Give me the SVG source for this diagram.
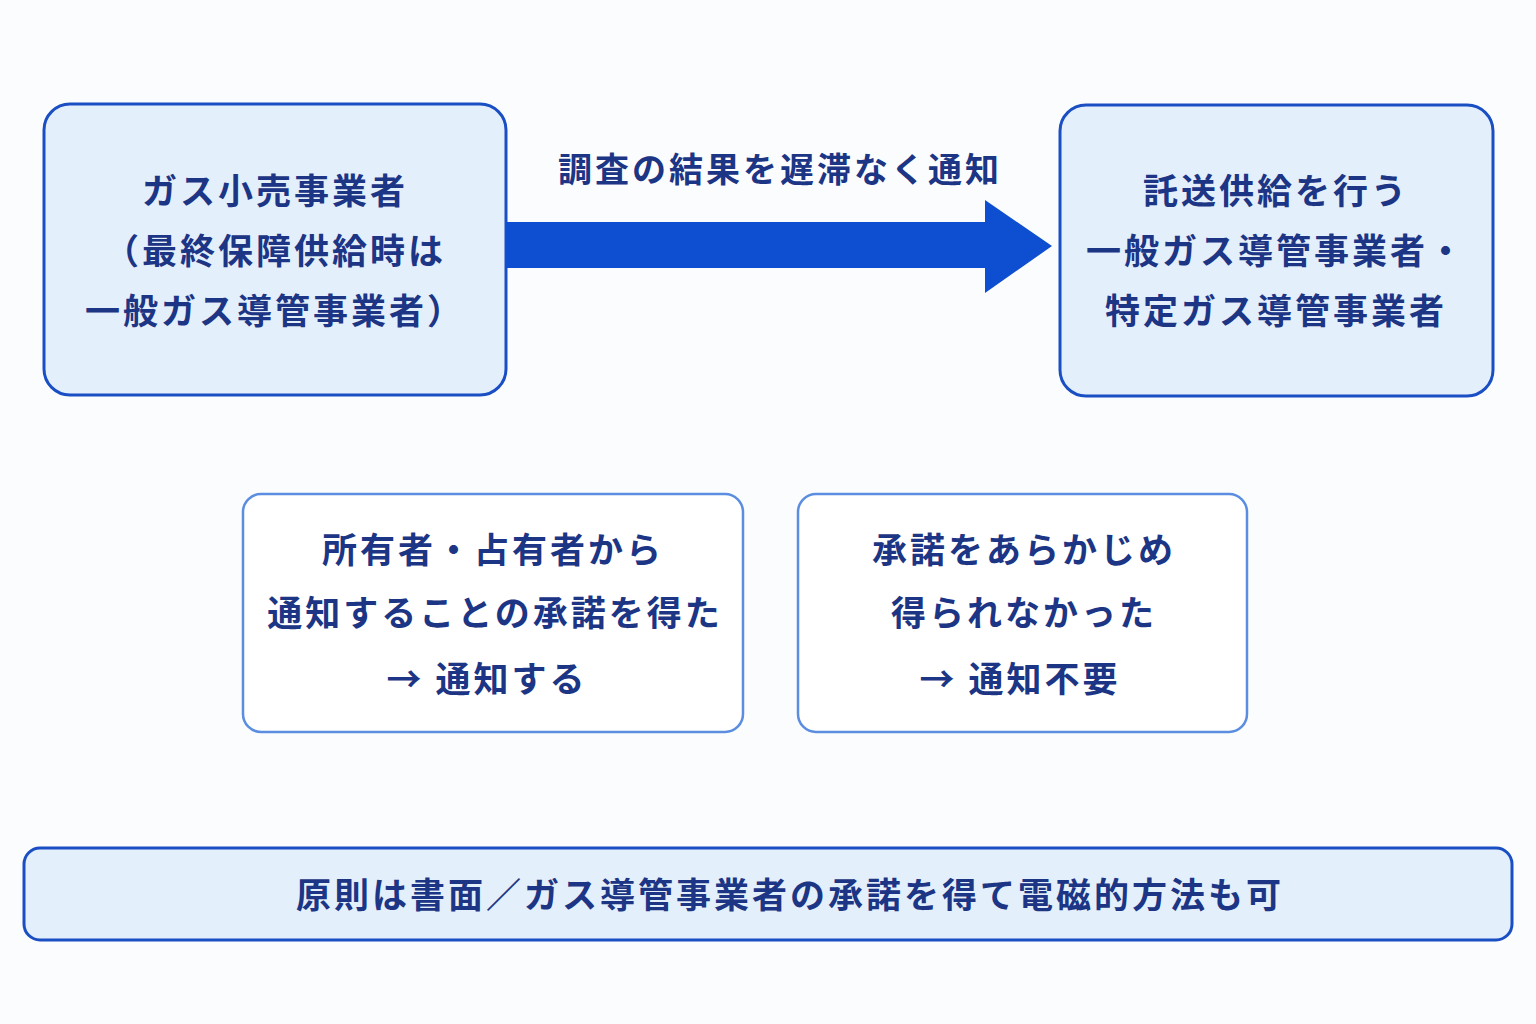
<svg xmlns="http://www.w3.org/2000/svg" width="1536" height="1024" viewBox="0 0 1536 1024">
<style>
.t{font-family:"Noto Sans CJK JP","Noto Sans",sans-serif;font-weight:bold;fill:#1c3584;text-anchor:middle;letter-spacing:3px}
.main{fill:#e4effc;stroke:#1a4fc4;stroke-width:3}
.sub{fill:#ffffff;stroke:#5b8ee0;stroke-width:2.5}
</style>
<rect width="1536" height="1024" fill="#fbfcfe"/>
<g id="n1"><rect class="main" x="44" y="104" width="462" height="291" rx="26"/>
<text class="t" font-size="35" x="275" y="204">ガス小売事業者</text>
<text class="t" font-size="35" x="275" y="264">（最終保障供給時は</text>
<text class="t" font-size="35" x="275" y="324">一般ガス導管事業者）</text></g>
<g id="n2"><rect class="main" x="1060" y="105" width="433" height="291" rx="26"/>
<text class="t" font-size="35" x="1276" y="204">託送供給を行う</text>
<text class="t" font-size="35" x="1276" y="264">一般ガス導管事業者・</text>
<text class="t" font-size="35" x="1276" y="324">特定ガス導管事業者</text></g>
<g id="connectors">
<polygon fill="#0d4fd0" points="506,222 985,222 985,200 1052,246 985,293 985,268 506,268"/>
<text class="t" font-size="34" x="780" y="182">調査の結果を遅滞なく通知</text>
</g>
<g id="n3"><rect class="sub" x="243" y="494" width="500" height="238" rx="18"/>
<text class="t" font-size="35" x="493" y="563">所有者・占有者から</text>
<text class="t" font-size="35" x="495" y="626">通知することの承諾を得た</text>
<text class="t" font-size="35" x="487" y="692">→ 通知する</text></g>
<g id="n4"><rect class="sub" x="798" y="494" width="449" height="238" rx="18"/>
<text class="t" font-size="35" x="1024" y="563">承諾をあらかじめ</text>
<text class="t" font-size="35" x="1024" y="626">得られなかった</text>
<text class="t" font-size="35" x="1020" y="692">→ 通知不要</text></g>
<g id="n5"><rect class="main" x="24" y="848" width="1488" height="92" rx="16"/>
<text class="t" font-size="35" x="790" y="908">原則は書面／ガス導管事業者の承諾を得て電磁的方法も可</text></g>
</svg>
